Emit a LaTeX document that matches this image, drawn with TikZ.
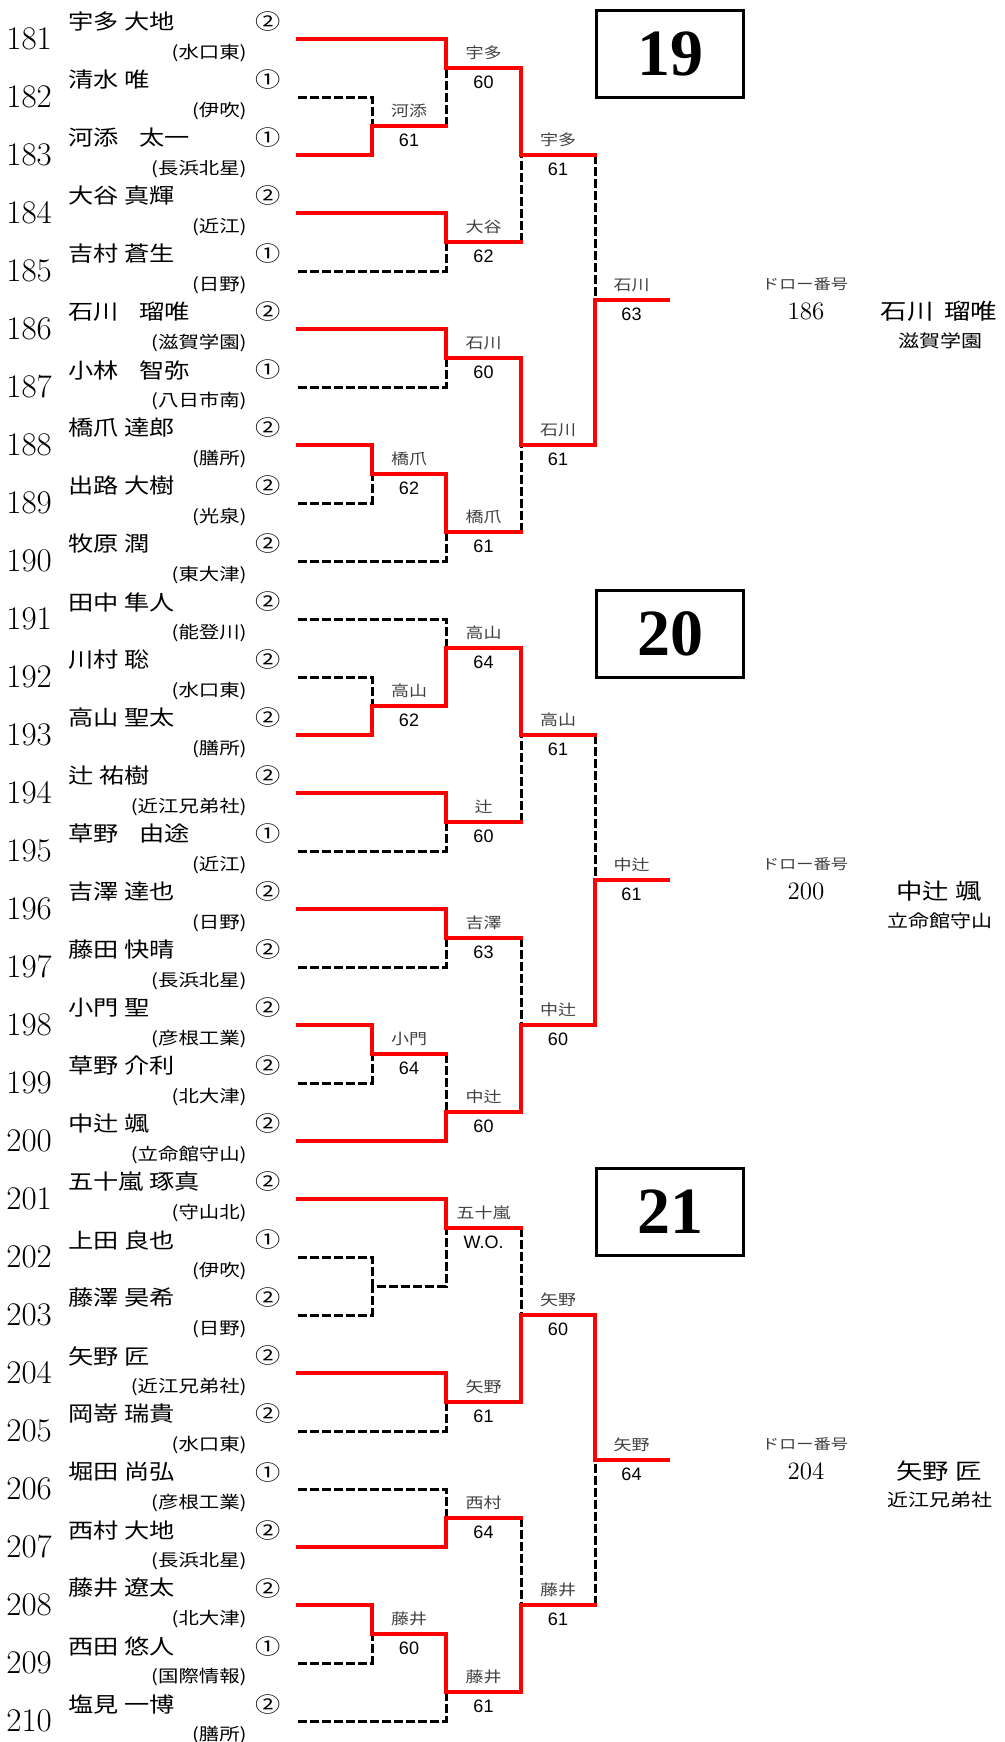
\documentclass[tikz,border=0pt]{standalone}
\usepackage{fontspec}
\newfontfamily\jpfont[FakeStretch=1.2]{Noto Sans CJK JP}
\newfontfamily\scorefont{Liberation Sans}
\newfontfamily\boxfont{Liberation Serif}

\begin{document}
\begin{tikzpicture}[x=0.5pt,y=-0.5pt,
  winline/.style={red,line width=2pt,line cap=rect},
  loseline/.style={black,line width=1.5pt,dash pattern=on 4.5pt off 1.5pt},
  num/.style={anchor=west,inner sep=0pt,font=\fontsize{16.5}{16.5}\selectfont},
  pname/.style={anchor=west,inner sep=0pt,font=\jpfont\fontsize{10.5}{10.5}\selectfont},
  grade/.style={inner sep=0pt,font=\jpfont\fontsize{10.5}{10.5}\selectfont},
  school/.style={anchor=east,inner sep=0pt,font=\jpfont\fontsize{8.5}{8.5}\selectfont},
  wname/.style={inner sep=0pt,yshift=7.5pt,text=black!75,font=\jpfont\fontsize{7.5}{7.5}\selectfont},
  wscore/.style={inner sep=0pt,yshift=-7pt,text=black,font=\scorefont\fontsize{9}{9}\selectfont},
  blockno/.style={draw,line width=1.5pt,minimum width=73.5pt,minimum height=43.5pt,inner sep=0pt,font=\boxfont\bfseries\fontsize{33}{33}\selectfont},
  drawlbl/.style={inner sep=0pt,text=black!75,font=\jpfont\fontsize{7.2}{7.2}\selectfont},
  drawnum/.style={inner sep=0pt,font=\fontsize{12.5}{12.5}\selectfont},
  champ/.style={inner sep=0pt,font=\jpfont\fontsize{11}{11}\selectfont},
  champsch/.style={inner sep=0pt,font=\jpfont\fontsize{8.75}{8.75}\selectfont}]
  \useasboundingbox (0,0) rectangle (1005,1742);

  \foreach \n/\nm/\sc/\g [count=\k from 0] in {
    181/宇多 大地/水口東/②, 182/清水 唯/伊吹/①, 183/河添\hspace{1em}太一/長浜北星/①,
    184/大谷 真輝/近江/②, 185/吉村 蒼生/日野/①, 186/石川\hspace{1em}瑠唯/滋賀学園/②,
    187/小林\hspace{1em}智弥/八日市南/①, 188/橋爪 達郎/膳所/②, 189/出路 大樹/光泉/②,
    190/牧原 潤/東大津/②, 191/田中 隼人/能登川/②, 192/川村 聡/水口東/②,
    193/高山 聖太/膳所/②, 194/辻 祐樹/近江兄弟社/②, 195/草野\hspace{1em}由途/近江/①,
    196/吉澤 達也/日野/②, 197/藤田 快晴/長浜北星/②, 198/小門 聖/彦根工業/②,
    199/草野 介利/北大津/②, 200/中辻 颯/立命館守山/②, 201/五十嵐 琢真/守山北/②,
    202/上田 良也/伊吹/①, 203/藤澤 昊希/日野/②, 204/矢野 匠/近江兄弟社/②,
    205/岡嵜 瑞貴/水口東/②, 206/堀田 尚弘/彦根工業/①, 207/西村 大地/長浜北星/②,
    208/藤井 遼太/北大津/②, 209/西田 悠人/国際情報/①, 210/塩見 一博/膳所/②}
  {
    \node[num] (n\n) at (6,{39+58*\k}) {\n};
    \node[pname] (a\n) at (68,{22+58*\k}) {\nm};
    \node[grade] (g\n) at (268,{22+58*\k}) {\g};
    \node[school] (s\n) at (247,{53+58*\k}) {(\sc)};
    \coordinate (p\n) at (298,{39+58*\k});
  }

  \coordinate (k19a) at (372,126);
  \coordinate (k19b) at (446,68);
  \coordinate (k19c) at (446,242);
  \coordinate (k19d) at (521,155);
  \coordinate (k19e) at (446,358);
  \coordinate (k19f) at (372,474);
  \coordinate (k19g) at (446,532);
  \coordinate (k19h) at (521,445);
  \coordinate (k19i) at (595,300);
  \coordinate (e19) at (668,300);

  \coordinate (k20a) at (372,706);
  \coordinate (k20b) at (446,648);
  \coordinate (k20c) at (446,822);
  \coordinate (k20d) at (521,735);
  \coordinate (k20e) at (446,938);
  \coordinate (k20f) at (372,1054);
  \coordinate (k20g) at (446,1112);
  \coordinate (k20h) at (521,1025);
  \coordinate (k20i) at (595,880);
  \coordinate (e20) at (668,880);

  \coordinate (k21a) at (372,1286);
  \coordinate (k21b) at (446,1228);
  \coordinate (k21c) at (446,1402);
  \coordinate (k21d) at (521,1315);
  \coordinate (k21e) at (446,1518);
  \coordinate (k21f) at (372,1634);
  \coordinate (k21g) at (446,1692);
  \coordinate (k21h) at (521,1605);
  \coordinate (k21i) at (595,1460);
  \coordinate (e21) at (668,1460);

  \draw[loseline] (p182) -| (k19a);
  \draw[loseline] (k19a -| k19b) -- (k19b);
  \draw[loseline] (p185) -| (k19c);
  \draw[loseline] (k19c -| k19d) -- (k19d);
  \draw[loseline] (p187) -| (k19e);
  \draw[loseline] (p189) -| (k19f);
  \draw[loseline] (p190) -| (k19g);
  \draw[loseline] (k19g -| k19h) -- (k19h);
  \draw[loseline] (k19d -| k19i) -- (k19i);

  \draw[winline] (p183) -| (k19a) -- node[wname] {河添} node[wscore] {61} (k19a -| k19b);
  \draw[winline] (p181) -| (k19b) -- node[wname] {宇多} node[wscore] {60} (k19b -| k19d);
  \draw[winline] (p184) -| (k19c) -- node[wname] {大谷} node[wscore] {62} (k19c -| k19d);
  \draw[winline] (k19b -| k19d) -- (k19d) -- node[wname] {宇多} node[wscore] {61} (k19d -| k19i);
  \draw[winline] (p186) -| (k19e) -- node[wname] {石川} node[wscore] {60} (k19e -| k19h);
  \draw[winline] (p188) -| (k19f) -- node[wname] {橋爪} node[wscore] {62} (k19f -| k19g);
  \draw[winline] (k19f -| k19g) -- (k19g) -- node[wname] {橋爪} node[wscore] {61} (k19g -| k19h);
  \draw[winline] (k19e -| k19h) -- (k19h) -- node[wname] {石川} node[wscore] {61} (k19h -| k19i);
  \draw[winline] (k19h -| k19i) -- (k19i) -- node[wname] {石川} node[wscore] {63} (e19);

  \draw[loseline] (p192) -| (k20a);
  \draw[loseline] (p191) -| (k20b);
  \draw[loseline] (p195) -| (k20c);
  \draw[loseline] (k20c -| k20d) -- (k20d);
  \draw[loseline] (p197) -| (k20e);
  \draw[loseline] (p199) -| (k20f);
  \draw[loseline] (k20f -| k20g) -- (k20g);
  \draw[loseline] (k20e -| k20h) -- (k20h);
  \draw[loseline] (k20d -| k20i) -- (k20i);

  \draw[winline] (p193) -| (k20a) -- node[wname] {高山} node[wscore] {62} (k20a -| k20b);
  \draw[winline] (k20a -| k20b) -- (k20b) -- node[wname] {高山} node[wscore] {64} (k20b -| k20d);
  \draw[winline] (p194) -| (k20c) -- node[wname] {辻} node[wscore] {60} (k20c -| k20d);
  \draw[winline] (k20b -| k20d) -- (k20d) -- node[wname] {高山} node[wscore] {61} (k20d -| k20i);
  \draw[winline] (p196) -| (k20e) -- node[wname] {吉澤} node[wscore] {63} (k20e -| k20h);
  \draw[winline] (p198) -| (k20f) -- node[wname] {小門} node[wscore] {64} (k20f -| k20g);
  \draw[winline] (p200) -| (k20g) -- node[wname] {中辻} node[wscore] {60} (k20g -| k20h);
  \draw[winline] (k20g -| k20h) -- (k20h) -- node[wname] {中辻} node[wscore] {60} (k20h -| k20i);
  \draw[winline] (k20h -| k20i) -- (k20i) -- node[wname] {中辻} node[wscore] {61} (e20);

  \draw[loseline] (p202) -| (k21a);
  \draw[loseline] (p203) -| (k21a) -- (k21a -| k21b) -- (k21b);
  \draw[loseline] (p205) -| (k21c);
  \draw[loseline] (k21b -| k21d) -- (k21d);
  \draw[loseline] (p206) -| (k21e);
  \draw[loseline] (p209) -| (k21f);
  \draw[loseline] (p210) -| (k21g);
  \draw[loseline] (k21e -| k21h) -- (k21h);
  \draw[loseline] (k21h -| k21i) -- (k21i);

  \draw[winline] (p201) -| (k21b) -- node[wname] {五十嵐} node[wscore] {W.O.} (k21b -| k21d);
  \draw[winline] (p204) -| (k21c) -- node[wname] {矢野} node[wscore] {61} (k21c -| k21d);
  \draw[winline] (k21c -| k21d) -- (k21d) -- node[wname] {矢野} node[wscore] {60} (k21d -| k21i);
  \draw[winline] (p207) -| (k21e) -- node[wname] {西村} node[wscore] {64} (k21e -| k21h);
  \draw[winline] (p208) -| (k21f) -- node[wname] {藤井} node[wscore] {60} (k21f -| k21g);
  \draw[winline] (k21f -| k21g) -- (k21g) -- node[wname] {藤井} node[wscore] {61} (k21g -| k21h);
  \draw[winline] (k21g -| k21h) -- (k21h) -- node[wname] {藤井} node[wscore] {61} (k21h -| k21i);
  \draw[winline] (k21d -| k21i) -- (k21i) -- node[wname] {矢野} node[wscore] {64} (e21);

  \node[blockno] (b19) at (670,54) {19};
  \node[blockno] (b20) at (670,634) {20};
  \node[blockno] (b21) at (670,1212) {21};

  \node[drawlbl] (d19) at (805,284) {ドロー番号};
  \node[drawnum] (dn19) at (806,311) {186};
  \node[champ] (c19) at (939,311) {石川\hspace{0.5em}瑠唯};
  \node[champsch] (cs19) at (940,341) {滋賀学園};

  \node[drawlbl] (d20) at (805,864) {ドロー番号};
  \node[drawnum] (dn20) at (806,891) {200};
  \node[champ] (c20) at (939,891) {中辻 颯};
  \node[champsch] (cs20) at (940,921) {立命館守山};

  \node[drawlbl] (d21) at (805,1444) {ドロー番号};
  \node[drawnum] (dn21) at (806,1471) {204};
  \node[champ] (c21) at (939,1471) {矢野 匠};
  \node[champsch] (cs21) at (940,1500) {近江兄弟社};
\end{tikzpicture}
\end{document}
